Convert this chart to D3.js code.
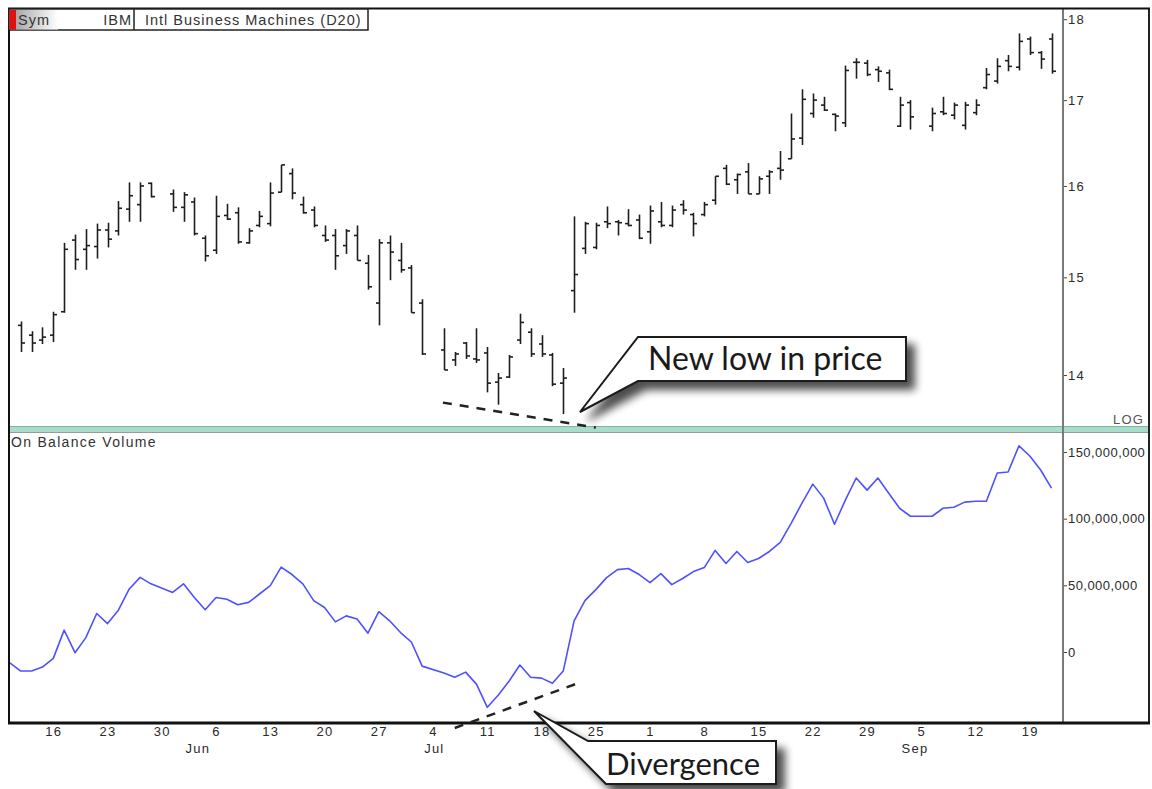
<!DOCTYPE html>
<html><head><meta charset="utf-8">
<script src="https://cdn.jsdelivr.net/npm/d3@7"></script>
<style>body{margin:0;background:#fff;} svg{display:block;}</style>
</head><body><svg id="c" width="1152" height="789"></svg>
<script>
// ---------- DATA ----------
const startDate = "2005-05-10";           // first weekday slot (one slot per weekday)
const symbol = "IBM";
const title = "Intl Business Machines (D20)";
const openP = [null,14.50,14.40,14.35,14.40,14.64,15.40,15.30,15.33,15.51,15.50,15.74,15.79,16.03,null,15.91,15.76,15.82,15.42,15.29,15.67,15.70,15.37,15.56,15.58,15.93,16.14,15.79,15.73,15.45,15.45,15.34,15.45,15.15,14.73,15.37,15.18,15.10,14.73,null,14.25,14.15,14.32,14.16,14.22,13.93,13.98,14.35,14.43,14.31,14.20,13.92,14.86,15.31,15.32,15.60,15.60,15.58,15.62,15.49,15.60,15.56,15.79,15.68,15.68,15.84,16.20,16.07,16.16,15.91,16.11,16.20,16.31,16.55,16.84,16.94,16.83,16.73,17.46,17.45,17.37,17.33,16.69,16.97,null,16.69,16.86,16.82,16.70,16.85,17.15,17.23,17.48,17.40,17.75,17.58,17.75];
const highP = [null,14.54,14.44,14.48,14.64,15.37,15.46,15.52,15.58,15.59,15.83,16.04,16.04,16.04,null,15.96,15.93,15.87,15.45,15.89,15.80,15.76,15.53,15.72,16.04,16.24,16.20,15.88,15.77,15.56,15.52,15.52,15.56,15.24,15.41,15.45,15.37,15.13,14.77,null,14.47,14.23,14.33,14.47,14.28,14.02,14.20,14.62,14.47,14.40,14.22,14.07,15.66,15.60,15.59,15.77,15.62,15.74,15.68,15.78,15.82,15.78,15.84,15.70,15.82,16.11,16.24,16.14,16.26,16.11,16.18,16.40,16.84,17.13,17.08,17.04,16.84,17.42,17.51,17.49,17.41,17.37,17.04,17.00,null,16.91,17.04,16.97,16.98,17.01,17.39,17.51,17.55,17.82,17.78,17.60,17.82];
const lowP = [null,14.23,14.23,14.31,14.33,14.63,15.08,15.08,15.20,15.32,15.45,15.60,15.60,15.87,null,15.71,15.60,15.45,15.17,15.25,15.62,15.36,15.36,15.54,15.55,15.93,15.85,15.69,15.54,15.38,15.08,15.25,15.18,14.87,14.50,14.97,15.05,14.63,14.20,null,14.05,14.09,14.16,14.12,13.83,13.71,13.97,14.31,14.18,14.18,13.89,13.62,14.63,15.25,15.30,15.53,15.45,15.55,15.41,15.36,15.54,15.54,15.68,15.44,15.66,15.79,16.01,15.91,15.91,15.91,15.91,16.07,16.31,16.47,16.79,16.87,16.63,16.68,17.26,17.29,17.22,17.12,16.68,16.65,null,16.63,16.82,16.77,16.65,16.82,17.13,17.20,17.35,17.36,17.55,17.38,17.32];
const closeP = [null,14.32,14.32,14.38,14.61,15.30,15.19,15.34,15.51,15.41,15.75,15.89,16.00,15.88,null,15.76,15.90,15.47,15.23,15.66,15.63,15.38,15.50,15.66,15.92,16.24,15.92,15.70,15.56,15.40,15.23,15.50,15.18,14.90,15.37,15.27,15.08,14.63,14.21,null,14.05,14.21,14.19,14.15,13.92,13.97,14.18,14.53,14.21,14.21,13.91,13.97,15.03,15.58,15.56,15.58,15.59,15.56,15.42,15.72,15.56,15.73,15.73,15.58,15.79,16.11,16.02,16.13,15.91,16.08,16.16,16.18,16.54,17.01,17.00,16.88,16.81,17.36,17.46,17.31,17.35,17.13,16.94,16.80,null,16.84,16.84,16.94,16.94,16.94,17.31,17.41,17.41,17.72,17.58,17.50,17.35];
// On Balance Volume, millions of shares
const obvM = [-8.1,-14.3,-14.3,-11.3,-4.8,16.4,-0.5,10.8,28.9,21.3,31.4,47.3,56.0,51.1,null,44.7,51.1,40.9,31.7,40.9,39.5,35.4,37.2,43.5,49.8,63.6,58.1,51.1,38.5,33.4,22.6,27.1,24.7,14.1,30.2,23.4,14.6,7.5,-10.6,null,-15.8,-18.9,-15.1,-24.1,-41.5,-32.4,-21.9,-9.8,-18.9,-19.6,-23.4,-14.3,23.4,38.5,46.8,55.8,61.8,62.6,58.1,52.0,58.8,50.5,55.1,60.3,63.3,76.2,66.4,75.4,67.1,70.1,75.4,82.2,96.5,111.6,125.9,115.4,95.8,113.9,130.5,121.4,130.5,119.1,107.8,101.8,null,101.8,107.8,108.6,112.4,113.1,113.1,134.2,135.0,154.6,147.0,136.5,122.9];
const priceTicks = [14, 15, 16, 17, 18];
const obvTicks = [0, 50000000, 100000000, 150000000];
const monthDates = ["2005-06-01", "2005-07-01", "2005-09-01"];
const monthNames = ["Jun", "Jul", "Sep"];

// ---------- SETUP ----------
const svg = d3.select("#c");
const W = 1152, H = 789;
const L = 9, R = 1149, axisX = 1063;
const pTop = 10, pBot = 428, oTop = 432, oBot = 722;
const FONT = "'Liberation Sans', Arial, sans-serif";

const parse = d3.timeParse("%Y-%m-%d");
const dates = [];
{ let d = parse(startDate); while (dates.length < closeP.length) { const wd = d.getDay(); if (wd > 0 && wd < 6) dates.push(new Date(d)); d = d3.timeDay.offset(d, 1); } }
const idxOf = s => dates.findIndex(d => +d === +parse(s));

const x = d3.scaleLinear().domain([0, dates.length - 1]).range([9.9, 1051.5]);
const yP = d3.scaleLog().domain([13.486, 18.117]).range([pBot, pTop]);
const yO = d3.scaleLinear().domain([-52.5e6, 165e6]).range([oBot, oTop]);

svg.append("rect").attr("width", W).attr("height", H).attr("fill", "#fff");

const defs = svg.append("defs");
const f = defs.append("filter").attr("id", "sh").attr("x", "-10%").attr("y", "-20%").attr("width", "130%").attr("height", "170%");
f.append("feGaussianBlur").attr("in", "SourceAlpha").attr("stdDeviation", 4.5);
f.append("feOffset").attr("dx", 8).attr("dy", 8).attr("result", "b");
f.append("feComponentTransfer").append("feFuncA").attr("type", "linear").attr("slope", 0.7);
const fm = f.append("feMerge"); fm.append("feMergeNode"); fm.append("feMergeNode").attr("in", "SourceGraphic");
const hg = defs.append("linearGradient").attr("id", "hg");
hg.append("stop").attr("offset", "0").attr("stop-color", "#a8a8a8");
hg.append("stop").attr("offset", "1").attr("stop-color", "#ffffff");

// ---------- PRICE BARS ----------
const bars = d3.range(dates.length).filter(i => closeP[i] != null);
const gB = svg.append("g").attr("stroke", "#1e1e1e").attr("stroke-width", 1.6);
bars.forEach(i => {
  const cx = Math.round(x(i)) + 0.5;
  gB.append("line").attr("x1", cx).attr("x2", cx).attr("y1", yP(highP[i])).attr("y2", yP(lowP[i]));
  gB.append("line").attr("x1", cx - 3.5).attr("x2", cx).attr("y1", yP(openP[i])).attr("y2", yP(openP[i]));
  gB.append("line").attr("x1", cx).attr("x2", cx + 3.5).attr("y1", yP(closeP[i])).attr("y2", yP(closeP[i]));
});

// ---------- OBV LINE ----------
const obvPts = d3.range(dates.length).filter(i => obvM[i] != null);
svg.append("path").datum(obvPts)
  .attr("fill", "none").attr("stroke", "#5050ff").attr("stroke-width", 1.6).attr("stroke-linejoin", "round")
  .attr("d", d3.line().x(i => x(i)).y(i => yO(obvM[i] * 1e6)));

// ---------- FRAME ----------
svg.append("rect").attr("x", L).attr("y", 427).attr("width", R - L).attr("height", 5).attr("fill", "#a9dccb");
svg.append("line").attr("x1", L).attr("x2", R).attr("y1", 426.5).attr("y2", 426.5).attr("stroke", "#7fb7a6").attr("stroke-width", 1);
svg.append("line").attr("x1", L).attr("x2", R).attr("y1", 432.5).attr("y2", 432.5).attr("stroke", "#9a9a9a").attr("stroke-width", 1);
svg.append("line").attr("x1", axisX).attr("x2", axisX).attr("y1", 9).attr("y2", oBot).attr("stroke", "#7a7a7a").attr("stroke-width", 2);
svg.append("line").attr("x1", L).attr("x2", L).attr("y1", 8).attr("y2", oBot + 1).attr("stroke", "#111").attr("stroke-width", 2);
svg.append("line").attr("x1", R).attr("x2", R).attr("y1", 8).attr("y2", oBot + 1).attr("stroke", "#222").attr("stroke-width", 2);
svg.append("line").attr("x1", L - 1).attr("x2", R + 1).attr("y1", 8.5).attr("y2", 8.5).attr("stroke", "#111").attr("stroke-width", 2);
svg.append("line").attr("x1", L - 1).attr("x2", R + 1).attr("y1", oBot + 1).attr("y2", oBot + 1).attr("stroke", "#111").attr("stroke-width", 3);

// ---------- AXES ----------
const styleAxis = (g, ls) => { g.select(".domain").remove(); g.selectAll("text").attr("font-family", FONT).attr("font-size", 13).attr("letter-spacing", ls).attr("fill", "#2a2a2a"); g.selectAll("line").attr("stroke", "#444"); };
svg.append("g").attr("transform", `translate(${axisX + 1},0)`)
  .call(d3.axisRight(yP).tickValues(priceTicks).tickFormat(d3.format("d")).tickSize(3).tickPadding(1)).call(styleAxis, 1.2);
svg.append("g").attr("transform", `translate(${axisX + 1},0)`)
  .call(d3.axisRight(yO).tickValues(obvTicks).tickFormat(d3.format(",")).tickSize(3).tickPadding(1)).call(styleAxis, 0.45);
svg.append("text").attr("x", 1113).attr("y", 424).attr("font-family", FONT).attr("font-size", 13).attr("letter-spacing", 1.2).attr("fill", "#555").text("LOG");

const mondays = d3.range(dates.length).filter(i => dates[i].getDay() === 1);
svg.append("g").attr("transform", `translate(0,${oBot + 3})`)
  .call(d3.axisBottom(x).tickValues(mondays).tickFormat(i => dates[i].getDate()).tickSize(0).tickPadding(2)).call(styleAxis, 1.2);
svg.append("g").selectAll("text").data(monthDates).join("text")
  .attr("x", d => x(idxOf(d)) + 2).attr("y", 753).attr("font-family", FONT).attr("font-size", 13).attr("letter-spacing", 1.2).attr("fill", "#2a2a2a")
  .text((d, i) => monthNames[i]);

svg.append("text").attr("x", 11).attr("y", 447).attr("font-family", FONT).attr("font-size", 14).attr("letter-spacing", 1.3).attr("fill", "#333").text("On Balance Volume");

// ---------- HEADER ----------
const hd = svg.append("g");
hd.append("rect").attr("x", 9).attr("y", 9).attr("width", 359).attr("height", 21).attr("fill", "#fff").attr("stroke", "#222").attr("stroke-width", 1.5);
hd.append("rect").attr("x", 16).attr("y", 10).attr("width", 42).attr("height", 19.5).attr("fill", "url(#hg)");
hd.append("rect").attr("x", 9.5).attr("y", 10).attr("width", 6.5).attr("height", 19.5).attr("fill", "#e01010");
hd.append("line").attr("x1", 134).attr("x2", 134).attr("y1", 9).attr("y2", 30).attr("stroke", "#222").attr("stroke-width", 1.5);
const ht = (xx, s, anchor) => hd.append("text").attr("x", xx).attr("y", 25).attr("text-anchor", anchor).attr("font-family", FONT).attr("font-size", 14.5).attr("letter-spacing", 1.0).attr("fill", "#333").text(s);
ht(18, "Sym", "start");
ht(132, symbol, "end");
ht(145, title, "start");

// ---------- ANNOTATIONS ----------
const dash = (p1, p2) => svg.append("line").attr("x1", p1[0]).attr("y1", p1[1]).attr("x2", p2[0]).attr("y2", p2[1])
  .attr("stroke", "#222").attr("stroke-width", 2.5).attr("stroke-dasharray", "9,8");
dash([x(40) - 1, yP(13.73)], [x(54), yP(13.49)]);
dash([x(41), yO(-57e6)], [x(52.5), yO(-23e6)]);

function callout(pts, label, tx, ty, fs) {
  const g = svg.append("g");
  g.append("path").attr("d", "M" + pts.map(p => p.join(",")).join("L") + "Z")
    .attr("fill", "#fff").attr("stroke", "#1a1a1a").attr("stroke-width", 2).attr("stroke-linejoin", "miter").attr("filter", "url(#sh)");
  g.append("text").attr("x", tx).attr("y", ty).attr("font-family", "Lato, 'Open Sans', sans-serif").attr("font-size", fs).attr("fill", "#1a1a1a").text(label);
}
callout([[580, 412], [638, 337], [906, 337], [906, 381], [638, 381]], "New low in price", 648, 370, 32);
callout([[534, 711], [588, 741], [776, 741], [776, 784], [606, 784]], "Divergence", 606, 775, 31);
</script></body></html>
